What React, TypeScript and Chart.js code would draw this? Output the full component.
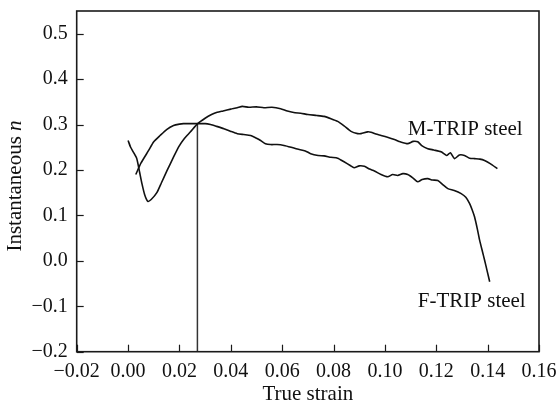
import React, { useEffect, useRef } from "react";
import { Chart, registerables } from "chart.js";

Chart.register(...registerables);

const FONT = '"Liberation Serif", "Times New Roman", Times, serif';

// M-TRIP steel curve (true strain, instantaneous n)
const mStrain = [
  0.0, 0.001, 0.002, 0.0034, 0.0045, 0.0054, 0.0065, 0.0077, 0.009, 0.0112,
  0.013, 0.0152, 0.0175, 0.0197, 0.022, 0.0243, 0.0271, 0.03, 0.0325, 0.0347,
  0.037, 0.04, 0.0425, 0.0445, 0.047, 0.05, 0.0529, 0.056, 0.0594, 0.062,
  0.065, 0.0672, 0.07, 0.0735, 0.0763, 0.079, 0.0816, 0.0841, 0.0868, 0.0894,
  0.0907, 0.0933, 0.0946, 0.0965, 0.0985, 0.101, 0.1037, 0.106, 0.1089, 0.111,
  0.1128, 0.1145, 0.1167, 0.119, 0.1219, 0.124, 0.1255, 0.1271, 0.129, 0.131,
  0.133, 0.1349, 0.137, 0.1388, 0.141, 0.1438,
];
const mN = [
  0.265, 0.25, 0.24, 0.225, 0.195, 0.17, 0.145, 0.131, 0.135, 0.15,
  0.172, 0.199, 0.226, 0.251, 0.27, 0.284, 0.302, 0.314, 0.322, 0.327,
  0.33, 0.334, 0.337, 0.34, 0.338, 0.339, 0.337, 0.338, 0.335, 0.33,
  0.326, 0.325, 0.322, 0.32, 0.318, 0.313, 0.307, 0.297, 0.285, 0.28,
  0.28, 0.284, 0.283, 0.279, 0.276, 0.272, 0.267, 0.262, 0.258, 0.263,
  0.262, 0.253, 0.247, 0.244, 0.24, 0.232, 0.238, 0.225, 0.233, 0.232,
  0.226, 0.225, 0.224, 0.221, 0.214, 0.203,
];

// F-TRIP steel curve
const fStrain = [
  0.003, 0.005, 0.008, 0.01, 0.0125, 0.015, 0.0177, 0.02, 0.0216, 0.024,
  0.0271, 0.03, 0.0321, 0.0345, 0.0373, 0.04, 0.0425, 0.045, 0.0477, 0.05,
  0.0516, 0.0535, 0.0555, 0.058, 0.0607, 0.0635, 0.0659, 0.069, 0.0711, 0.074,
  0.0763, 0.079, 0.0816, 0.0841, 0.0865, 0.088, 0.09, 0.092, 0.094, 0.0959,
  0.0985, 0.1011, 0.103, 0.105, 0.107, 0.1089, 0.111, 0.1128, 0.1145, 0.1167,
  0.1185, 0.1206, 0.1225, 0.1245, 0.127, 0.1297, 0.1315, 0.133, 0.134, 0.1349,
  0.136, 0.1369, 0.138, 0.1388, 0.1398, 0.1408,
];
const fN = [
  0.19, 0.215, 0.243, 0.262, 0.276, 0.289, 0.298, 0.301, 0.302, 0.302,
  0.302, 0.302, 0.3, 0.296, 0.291, 0.285, 0.28, 0.278, 0.276, 0.27,
  0.265, 0.258, 0.256, 0.256, 0.254, 0.25, 0.246, 0.242, 0.236, 0.232,
  0.231, 0.228, 0.226, 0.218, 0.21, 0.205, 0.209, 0.208, 0.202, 0.198,
  0.19, 0.185, 0.19, 0.188, 0.192, 0.19, 0.182, 0.174, 0.179, 0.181,
  0.178, 0.177, 0.168, 0.159, 0.155, 0.148, 0.14, 0.126, 0.112, 0.097,
  0.07, 0.045, 0.02, 0.002, -0.022, -0.046,
];

// vertical marker line at the crossing point
const markerStrain = [0.027, 0.027];
const markerN = [0.302, -0.2];

// curve labels
const labelTexts = ["M-TRIP steel", "F-TRIP steel"];
const labelStrain = [0.1089, 0.1128];
const labelN = [0.276, -0.101];

// axes
const xMin = -0.02;
const xMax = 0.16;
const xTickValues = [-0.02, 0.0, 0.02, 0.04, 0.06, 0.08, 0.1, 0.12, 0.14, 0.16];
const yMin = -0.2;
const yMax = 0.55;
const yTickValues = [-0.2, -0.1, 0.0, 0.1, 0.2, 0.3, 0.4, 0.5];

const toPoints = (xs: number[], ys: number[]) => xs.map((x, i) => ({ x, y: ys[i] }));
const fmt = (v: number, d: number) => {
  const s = Math.abs(v) < 1e-9 ? (0).toFixed(d) : v.toFixed(d);
  return s.replace("-", "\u2212");
};

const decorPlugin = {
  id: "decor",
  afterDraw(chart: any) {
    const { ctx, chartArea: a, scales } = chart;
    const xs = scales.x;
    const ys = scales.y;
    ctx.save();
    // inward ticks
    ctx.strokeStyle = "#1a1a1a";
    ctx.lineWidth = 1.2;
    xs.ticks.forEach((t: any) => {
      const px = Math.round(xs.getPixelForValue(t.value)) + 0.5;
      ctx.beginPath();
      ctx.moveTo(px, a.bottom);
      ctx.lineTo(px, a.bottom - 7);
      ctx.stroke();
    });
    ys.ticks.forEach((t: any) => {
      const py = Math.round(ys.getPixelForValue(t.value)) + 0.5;
      ctx.beginPath();
      ctx.moveTo(a.left, py);
      ctx.lineTo(a.left + 7, py);
      ctx.stroke();
    });
    // frame
    ctx.lineWidth = 1.6;
    ctx.strokeStyle = "#1a1a1a";
    ctx.strokeRect(a.left, a.top, a.right - a.left, a.bottom - a.top);

    // curve labels
    ctx.fillStyle = "#111";
    ctx.font = `21px ${FONT}`;
    ctx.textAlign = "left";
    ctx.textBaseline = "alphabetic";
    labelTexts.forEach((txt, i) => {
      ctx.fillText(txt, xs.getPixelForValue(labelStrain[i]), ys.getPixelForValue(labelN[i]));
    });

    // x axis title
    ctx.textAlign = "center";
    ctx.fillText("True strain", (a.left + a.right) / 2, 400);

    // y axis title with italic n
    const part1 = "Instantaneous ";
    const part2 = "n";
    ctx.font = `21px ${FONT}`;
    const w1 = ctx.measureText(part1).width;
    ctx.font = `italic 21px ${FONT}`;
    const w2 = ctx.measureText(part2).width;
    const total = w1 + w2;
    ctx.translate(20.5, 186);
    ctx.rotate(-Math.PI / 2);
    ctx.textAlign = "left";
    ctx.font = `21px ${FONT}`;
    ctx.fillText(part1, -total / 2, 0);
    ctx.font = `italic 21px ${FONT}`;
    ctx.fillText(part2, -total / 2 + w1, 0);
    ctx.restore();
  },
};

export default function App() {
  const ref = useRef<HTMLCanvasElement | null>(null);

  useEffect(() => {
    if (!ref.current) return;
    const chart = new Chart(ref.current, {
      type: "line",
      data: {
        datasets: [
          {
            label: "M-TRIP steel",
            data: toPoints(mStrain, mN),
            borderColor: "#111",
            borderWidth: 1.6,
            pointRadius: 0,
            tension: 0.2,
            fill: false,
          },
          {
            label: "F-TRIP steel",
            data: toPoints(fStrain, fN),
            borderColor: "#111",
            borderWidth: 1.6,
            pointRadius: 0,
            tension: 0.2,
            fill: false,
          },
          {
            label: "marker",
            data: toPoints(markerStrain, markerN),
            borderColor: "#333",
            borderWidth: 1.5,
            pointRadius: 0,
            fill: false,
          },
        ],
      },
      options: {
        animation: false,
        responsive: false,
        layout: { padding: { top: 11, right: 17, left: 0, bottom: 0 } },
        plugins: {
          legend: { display: false },
          tooltip: { enabled: false },
        },
        scales: {
          x: {
            type: "linear",
            min: xMin,
            max: xMax,
            grid: { display: false, drawTicks: false },
            border: { display: false },
            afterBuildTicks: (s: any) => {
              s.ticks = xTickValues.map((value) => ({ value }));
            },
            ticks: {
              padding: 8,
              color: "#111",
              font: { family: FONT, size: 20 },
              maxRotation: 0,
              autoSkip: false,
              callback: (v: any) => fmt(Number(v), 2),
            },
            afterFit: (s: any) => {
              s.height = 53.3;
              s.paddingLeft = 0;
              s.paddingRight = 0;
              s.paddingTop = 0;
              s.paddingBottom = 0;
            },
          },
          y: {
            type: "linear",
            min: yMin,
            max: yMax,
            grid: { display: false, drawTicks: false },
            border: { display: false },
            afterBuildTicks: (s: any) => {
              s.ticks = yTickValues.map((value) => ({ value }));
            },
            ticks: {
              padding: 9,
              color: "#111",
              font: { family: FONT, size: 20 },
              autoSkip: false,
              callback: (v: any) => fmt(Number(v), 1),
            },
            afterFit: (s: any) => {
              s.width = 76.7;
              s.paddingLeft = 0;
              s.paddingRight = 0;
              s.paddingTop = 0;
              s.paddingBottom = 0;
            },
          },
        },
      },
      plugins: [decorPlugin],
    });
    return () => chart.destroy();
  }, []);

  return (
    <div style={{ position: "absolute", left: 0, top: 0, width: 556, height: 405, background: "#fff" }}>
      <canvas ref={ref} width={556} height={405} style={{ display: "block" }} />
    </div>
  );
}
